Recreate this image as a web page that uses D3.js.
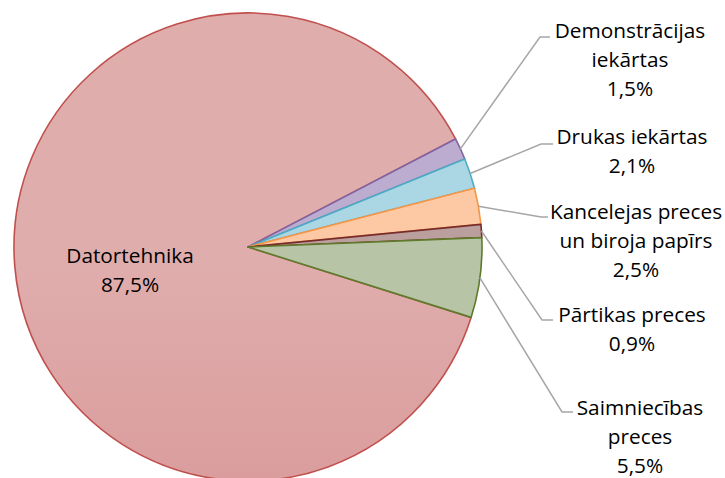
<!DOCTYPE html>
<html><head><meta charset="utf-8">
<script src="https://cdn.jsdelivr.net/npm/d3@7"></script>
<style>body{margin:0;background:#fff}svg{display:block}</style>
</head><body>
<svg id="c" width="725" height="478"></svg>
<script>
// data
const categories = ["Demonstrācijas iekārtas","Drukas iekārtas","Kancelejas preces un biroja papīrs","Pārtikas preces","Saimniecības preces","Datortehnika"];
const values = [1.5, 2.1, 2.5, 0.9, 5.5, 87.5];
const labelLines = [["Demonstrācijas","iekārtas","1,5%"],["Drukas iekārtas","2,1%"],["Kancelejas preces","un biroja papīrs","2,5%"],["Pārtikas preces","0,9%"],["Saimniecības","preces","5,5%"],["Datortehnika","87,5%"]];

// styles
const fillTop = ["#bcadd0","#abd6e3","#fdc9a4","#bb9e9e","#b7c4a6","#e0adad"];
const fillBot = ["#ae9cc4","#9ecdda","#fbbd93","#b39090","#8ea37a","#d48b8b"];
const strokes = ["#8064a2","#4bacc6","#f79646","#772c2a","#5f7a2b","#c0504d"];
// label layout: [elbowX, elbowY, endX, textCenterX, firstLineCenterY] ; pie-inside label for last
const layout = [[540,37,550,630,31],[541,144,553,632,137],[541,217,548,636,212],[542,320,553,632,315],[562,412,573,640,408],[null,null,null,130,256]];

const cx=248, cy=247, r=234, lineH=29;
const svg=d3.select("#c");
const defs=svg.append("defs");
values.forEach((v,i)=>{
  const g=defs.append("linearGradient").attr("id","g"+i).attr("gradientUnits","userSpaceOnUse")
    .attr("x1",0).attr("y1",cy-r).attr("x2",0).attr("y2",cy+r);
  g.append("stop").attr("offset","0").attr("stop-color",fillTop[i]);
  g.append("stop").attr("offset","1").attr("stop-color",fillBot[i]);
});
const pie=d3.pie().sort(null).value(d=>d).startAngle(62.5*Math.PI/180).endAngle(62.5*Math.PI/180+2*Math.PI);
const arcs=pie(values);
const arc=d3.arc().innerRadius(0).outerRadius(r);
arcs.forEach((a,i)=>{
  if(i<5){
    const ys=[a.startAngle,a.endAngle].map(t=>cy-r*Math.cos(t));
    const y0=Math.min(cy,...ys), y1=Math.max(cy,...ys);
    d3.select("#g"+i).attr("y1",y0).attr("y2",y1);
  }
});
const g=svg.append("g").attr("transform",`translate(${cx},${cy})`);
const order=[5,0,1,2,3,4];
order.forEach(i=>{
  g.append("path").attr("d",arc(arcs[i])).attr("fill",`url(#g${i})`)
    .attr("stroke",strokes[i]).attr("stroke-width",1.6).attr("stroke-linejoin","round");
});
const font="'Open Sans', sans-serif";
arcs.forEach((a,i)=>{
  const L=layout[i];
  if(L[0]!==null){
    const m=(a.startAngle+a.endAngle)/2;
    const sx=cx+r*Math.sin(m), sy=cy-r*Math.cos(m);
    svg.append("polyline").attr("points",`${sx},${sy} ${L[0]},${L[1]} ${L[2]},${L[1]}`)
      .attr("fill","none").attr("stroke","#a6a6a6").attr("stroke-width",1.5);
  }
  labelLines[i].forEach((t,k)=>{
    svg.append("text").attr("x",L[3]).attr("y",L[4]+k*lineH).attr("dy","0.35em")
      .attr("text-anchor","middle").attr("font-family",font).attr("font-size",20.8)
      .attr("fill","#000").text(t);
  });
});
</script>
</body></html>
